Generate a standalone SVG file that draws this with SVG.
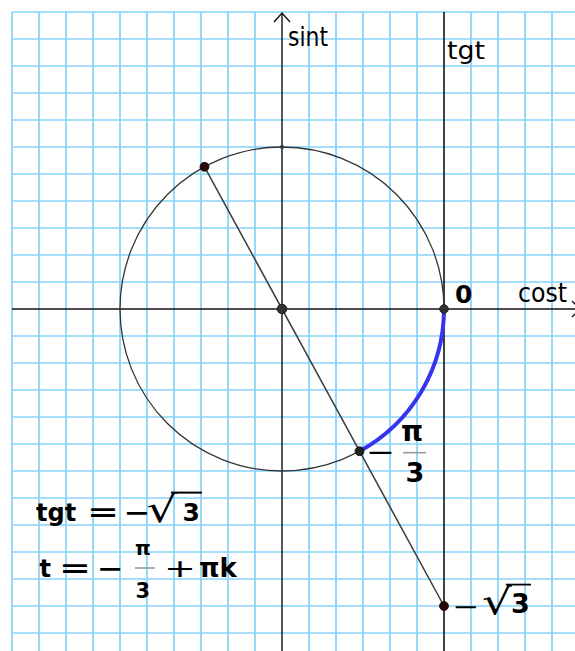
<svg xmlns="http://www.w3.org/2000/svg" width="575" height="651" viewBox="0 0 575 651">
<defs>
<style>
.grid line{stroke:#86d3fb;stroke-width:1.7}
.axis{stroke:#111;stroke-width:1.4;fill:none}
.lbl{font-family:"DejaVu Sans",sans-serif;fill:#000}
.b{font-family:"DejaVu Sans",sans-serif;font-weight:bold;fill:#000}
.bar{stroke:#9a9a9a;stroke-width:1.6}
.pt{stroke:#111;stroke-width:0.8}
</style>
</defs>
<rect width="575" height="651" fill="#fff"/>
<g id="grid" class="grid">
<line x1="12" y1="12" x2="12" y2="651"/><line x1="39" y1="12" x2="39" y2="651"/><line x1="66" y1="12" x2="66" y2="651"/><line x1="93" y1="12" x2="93" y2="651"/><line x1="120" y1="12" x2="120" y2="651"/><line x1="147" y1="12" x2="147" y2="651"/><line x1="174" y1="12" x2="174" y2="651"/><line x1="201" y1="12" x2="201" y2="651"/><line x1="228" y1="12" x2="228" y2="651"/><line x1="255" y1="12" x2="255" y2="651"/><line x1="309" y1="12" x2="309" y2="651"/><line x1="336" y1="12" x2="336" y2="651"/><line x1="363" y1="12" x2="363" y2="651"/><line x1="390" y1="12" x2="390" y2="651"/><line x1="417" y1="12" x2="417" y2="651"/><line x1="471" y1="12" x2="471" y2="651"/><line x1="498" y1="12" x2="498" y2="651"/><line x1="525" y1="12" x2="525" y2="651"/><line x1="552" y1="12" x2="552" y2="651"/>
<line x1="12" y1="12" x2="575" y2="12"/><line x1="12" y1="39" x2="575" y2="39"/><line x1="12" y1="66" x2="575" y2="66"/><line x1="12" y1="93" x2="575" y2="93"/><line x1="12" y1="120" x2="575" y2="120"/><line x1="12" y1="147" x2="575" y2="147"/><line x1="12" y1="174" x2="575" y2="174"/><line x1="12" y1="201" x2="575" y2="201"/><line x1="12" y1="228" x2="575" y2="228"/><line x1="12" y1="255" x2="575" y2="255"/><line x1="12" y1="282" x2="575" y2="282"/><line x1="12" y1="336" x2="575" y2="336"/><line x1="12" y1="363" x2="575" y2="363"/><line x1="12" y1="390" x2="575" y2="390"/><line x1="12" y1="417" x2="575" y2="417"/><line x1="12" y1="444" x2="575" y2="444"/><line x1="12" y1="471" x2="575" y2="471"/><line x1="12" y1="498" x2="575" y2="498"/><line x1="12" y1="525" x2="575" y2="525"/><line x1="12" y1="552" x2="575" y2="552"/><line x1="12" y1="579" x2="575" y2="579"/><line x1="12" y1="606" x2="575" y2="606"/><line x1="12" y1="633" x2="575" y2="633"/>
</g>
<g id="connectors">
<line class="axis" x1="12" y1="309" x2="580" y2="309"/>
<polyline class="axis" points="572,301 580,309 572,317"/>
<line class="axis" x1="282" y1="651" x2="282" y2="13"/>
<polyline class="axis" points="274,22 282,13 290,22"/>
<line class="axis" x1="444" y1="12" x2="444" y2="651" style="stroke-width:1.6"/>
<circle cx="282" cy="309" r="162" fill="none" stroke="#333" stroke-width="1.3"/>
<line x1="204.5" y1="166.8" x2="444" y2="606" stroke="#3a3a3a" stroke-width="1.5"/>
<path d="M444,309 A162,162 0 0 1 359.5,451.2" fill="none" stroke="#3535f0" stroke-width="4"/>
</g>
<g id="nodes">
<g id="p-origin"><circle class="pt" cx="282" cy="309" r="4.8" fill="#333"/></g>
<g id="p-top"><circle cx="282" cy="147" r="2" fill="#334"/></g>
<g id="p-upper"><circle class="pt" cx="204.5" cy="166.8" r="4.5" fill="#2a0606"/></g>
<g id="p-zero"><circle class="pt" cx="444" cy="309" r="4.3" fill="#333"/></g>
<g id="p-minus-pi3"><circle class="pt" cx="359.5" cy="451.2" r="4.5" fill="#222"/></g>
<g id="p-tan"><circle class="pt" cx="444" cy="606" r="4.5" fill="#2a0606"/></g>
</g>
<g id="labels">
<text class="lbl" x="288" y="46" font-size="26" textLength="40" lengthAdjust="spacingAndGlyphs">sint</text>
<text class="lbl" x="447" y="59" font-size="25" textLength="38" lengthAdjust="spacingAndGlyphs">tgt</text>
<text class="lbl" x="518" y="302" font-size="27" textLength="49" lengthAdjust="spacingAndGlyphs">cost</text>
<text class="b" x="455" y="303" font-size="25">0</text>
<text class="lbl" x="366" y="461" font-size="26" textLength="29" lengthAdjust="spacingAndGlyphs" fill="#333">−</text>
<line class="bar" x1="403" y1="452.7" x2="426" y2="452.7"/>
<text class="b" x="401" y="441" font-size="28">π</text>
<text class="b" x="405.5" y="482" font-size="27">3</text>
<text class="b" x="36" y="521" font-size="24">tgt</text>
<text class="b" x="87" y="521" font-size="24" textLength="32" lengthAdjust="spacingAndGlyphs">=</text>
<text class="b" x="123.3" y="521" font-size="24" textLength="26.7" lengthAdjust="spacingAndGlyphs">−</text>
<text class="lbl" transform="translate(146.5,522) scale(1.3,1)" font-size="37">√</text>
<line x1="171" y1="492.6" x2="202" y2="492.6" stroke="#000" stroke-width="2"/>
<text class="b" x="182.5" y="521" font-size="25">3</text>
<text class="b" x="39.5" y="577" font-size="24">t</text>
<text class="b" x="59" y="577" font-size="24" textLength="32" lengthAdjust="spacingAndGlyphs">=</text>
<text class="b" x="96.6" y="577" font-size="24" textLength="26.7" lengthAdjust="spacingAndGlyphs">−</text>
<text class="b" x="135" y="555" font-size="20">π</text>
<line class="bar" x1="135" y1="568" x2="155" y2="568"/>
<text class="b" x="135.5" y="598" font-size="21">3</text>
<text class="lbl" x="164" y="577" font-size="24" textLength="32" lengthAdjust="spacingAndGlyphs">+</text>
<text class="b" x="199" y="577" font-size="26">πk</text>
<text class="lbl" x="452" y="615" font-size="24" textLength="27" lengthAdjust="spacingAndGlyphs">−</text>
<text class="lbl" transform="translate(482,613.5) scale(1.3,1)" font-size="36">√</text>
<line x1="506" y1="584.6" x2="531" y2="584.6" stroke="#000" stroke-width="1.8"/>
<text class="b" x="511" y="613" font-size="27">3</text>
</g>
</svg>
